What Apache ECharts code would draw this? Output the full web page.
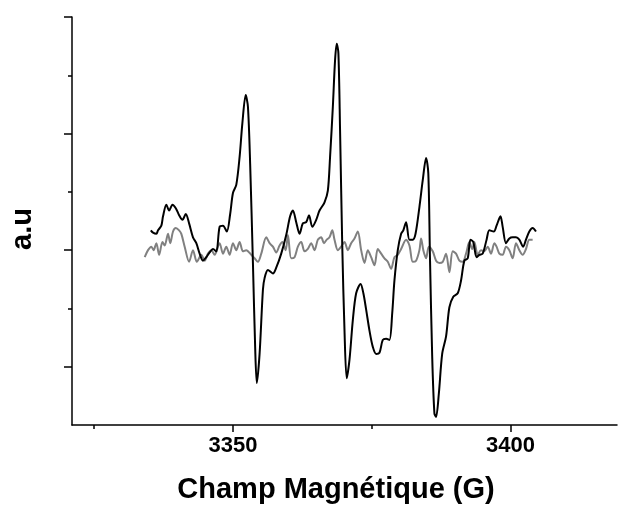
<!DOCTYPE html>
<html><head><meta charset="utf-8">
<script src="https://cdn.jsdelivr.net/npm/echarts@6/dist/echarts.min.js"></script>
<style>html,body{margin:0;padding:0;background:#fff}#c{width:619px;height:507px}</style>
</head><body><div id="c"></div>
<script>
// Field (G) and intensity (a.u) for the black spectrum
const blackX = [3335.2,3335.6,3336.2,3336.5,3337.1,3337.4,3338.0,3338.5,3339.1,3339.7,3340.3,3340.9,3341.5,3342.1,3342.8,3343.4,3344.0,3344.6,3345.2,3345.8,3346.4,3347.0,3347.6,3348.2,3348.9,3349.5,3350.0,3350.6,3351.2,3351.7,3352.3,3352.7,3353.1,3353.6,3354.0,3354.3,3354.8,3355.4,3355.7,3356.3,3357.2,3357.8,3358.7,3359.6,3360.3,3360.8,3361.4,3362.0,3362.6,3363.2,3363.7,3364.3,3365.0,3365.6,3366.5,3367.1,3367.5,3368.0,3368.4,3368.7,3369.0,3369.3,3369.7,3370.1,3370.5,3371.0,3371.6,3372.2,3373.0,3373.5,3374.0,3374.6,3375.2,3375.8,3376.4,3377.0,3377.6,3378.2,3378.7,3379.1,3379.7,3380.3,3380.7,3381.2,3381.8,3382.4,3382.9,3383.6,3384.2,3384.8,3385.2,3385.5,3385.9,3386.3,3386.6,3387.1,3387.7,3388.4,3389.0,3389.7,3390.5,3391.1,3391.7,3392.3,3392.8,3393.3,3393.9,3394.4,3395.0,3395.7,3396.2,3397.0,3397.5,3398.2,3398.6,3399.2,3399.8,3400.4,3401.0,3401.6,3402.3,3402.8,3403.4,3404.0,3404.6];
const blackY = [0.17,0.15,0.14,0.17,0.21,0.29,0.39,0.34,0.39,0.36,0.30,0.26,0.31,0.23,0.11,0.06,-0.03,-0.09,-0.06,-0.02,0.01,-0.01,0.20,0.21,0.16,0.31,0.49,0.56,0.80,1.09,1.33,1.23,0.74,-0.11,-0.83,-1.14,-0.89,-0.34,-0.24,-0.17,-0.20,-0.15,-0.03,0.13,0.29,0.34,0.24,0.14,0.23,0.24,0.30,0.20,0.26,0.34,0.41,0.51,0.80,1.23,1.63,1.77,1.69,1.03,0.03,-0.69,-1.10,-0.94,-0.60,-0.37,-0.29,-0.37,-0.51,-0.69,-0.83,-0.89,-0.88,-0.77,-0.76,-0.77,-0.54,-0.26,0.00,0.14,0.17,0.24,0.09,0.09,0.14,0.37,0.60,0.79,0.66,-0.06,-0.91,-1.40,-1.43,-1.23,-0.89,-0.74,-0.49,-0.40,-0.37,-0.26,-0.09,-0.07,0.09,0.07,-0.06,-0.04,-0.03,0.09,0.17,0.16,0.21,0.29,0.20,0.06,0.10,0.11,0.11,0.09,0.03,0.09,0.16,0.19,0.16];
// Field (G) and intensity (a.u) for the grey spectrum
const greyX = [3334.1,3334.7,3335.3,3335.7,3336.2,3336.7,3337.3,3337.7,3338.3,3338.7,3339.2,3339.7,3340.3,3340.7,3341.3,3342.1,3342.8,3343.5,3344.3,3344.9,3345.5,3346.1,3346.7,3347.6,3348.2,3348.8,3349.4,3350.0,3350.6,3351.2,3351.8,3352.4,3353.3,3353.9,3354.5,3355.1,3356.0,3356.6,3357.2,3357.8,3358.4,3358.9,3359.5,3359.9,3360.5,3361.1,3361.7,3362.3,3362.9,3363.5,3364.1,3364.7,3365.3,3365.9,3366.4,3366.9,3367.4,3367.9,3368.3,3368.9,3369.5,3370.1,3370.7,3371.3,3371.9,3372.5,3373.1,3373.7,3374.3,3374.9,3375.5,3376.1,3376.7,3377.3,3377.9,3378.5,3379.1,3379.7,3380.3,3381.2,3381.8,3382.4,3383.0,3383.6,3383.9,3384.3,3384.8,3385.3,3386.0,3386.6,3387.2,3387.8,3388.4,3389.0,3389.6,3390.2,3390.8,3391.4,3392.0,3392.6,3393.1,3393.5,3394.1,3394.7,3395.3,3395.9,3396.5,3397.1,3397.5,3398.0,3398.6,3399.2,3399.8,3400.4,3401.0,3401.6,3402.2,3402.8,3403.4,3404.0];
const greyY = [-0.06,0.00,0.03,0.00,0.06,-0.04,0.07,0.04,0.14,0.06,0.16,0.19,0.17,0.14,0.03,-0.10,0.00,-0.10,-0.04,-0.09,-0.03,0.00,-0.04,0.06,-0.03,0.03,-0.04,0.06,0.00,0.07,-0.01,0.00,-0.04,-0.07,-0.10,-0.03,0.11,0.06,0.03,-0.02,0.04,0.07,0.00,0.13,-0.07,-0.06,0.03,0.07,-0.01,0.01,0.06,0.00,0.09,0.11,0.06,0.09,0.11,0.17,0.09,0.00,0.03,0.07,0.00,0.06,0.10,0.16,0.00,-0.11,0.00,-0.06,-0.13,0.01,-0.03,-0.07,-0.10,-0.16,-0.06,-0.04,0.01,0.09,0.04,-0.10,-0.09,0.00,0.10,0.00,-0.07,0.03,-0.01,-0.09,-0.11,-0.10,-0.03,-0.19,-0.01,-0.03,-0.09,-0.10,-0.03,0.07,0.01,0.07,-0.04,0.00,-0.01,0.03,-0.03,0.06,0.03,-0.03,-0.04,0.03,0.00,-0.07,0.06,0.00,-0.04,0.01,0.09,0.09];
const xMajorTicks = [3350, 3400];
const xMinorTicks = [3325, 3375];
const yMajorTicks = [-1, 0, 1, 2];
const yMinorTicks = [-0.5, 0.5, 1.5];
const xTitle = 'Champ Magnétique (G)';
const yTitle = 'a.u';

const FONT = '"Liberation Sans", Arial, sans-serif';
const XMIN = 3321, XMAX = 3419.2, YMIN = -1.5, YMAX = 2;
const zip = (xs, ys) => xs.map((x, i) => [x, ys[i]]);

const chart = echarts.init(document.getElementById('c'), null, {renderer: 'canvas'});
const lineStyleAxis = {color: '#000', width: 1.5};
chart.setOption({
  animation: false,
  backgroundColor: '#fff',
  grid: {left: 72, right: 2, top: 17, bottom: 82, containLabel: false},
  xAxis: [
    {type: 'value', min: XMIN, max: XMAX, position: 'bottom',
     axisLine: {show: true, onZero: false, lineStyle: lineStyleAxis},
     axisTick: {show: true, customValues: xMajorTicks, length: 7, lineStyle: {color: '#000', width: 1.5}},
     axisLabel: {show: true, customValues: xMajorTicks, margin: 10, color: '#000', fontFamily: FONT, fontWeight: 'bold', fontSize: 22,
                 formatter: v => String(v)},
     splitLine: {show: false}},
    {type: 'value', min: XMIN, max: XMAX, position: 'bottom',
     axisLine: {show: false, onZero: false},
     axisTick: {show: true, customValues: xMinorTicks, length: 4, lineStyle: {color: '#000', width: 1.5}},
     axisLabel: {show: false}, splitLine: {show: false}}
  ],
  yAxis: [
    {type: 'value', min: YMIN, max: YMAX, position: 'left',
     axisLine: {show: true, onZero: false, lineStyle: lineStyleAxis},
     axisTick: {show: true, customValues: yMajorTicks, length: 8, lineStyle: {color: '#000', width: 1.5}},
     axisLabel: {show: false}, splitLine: {show: false}},
    {type: 'value', min: YMIN, max: YMAX, position: 'left',
     axisLine: {show: false, onZero: false},
     axisTick: {show: true, customValues: yMinorTicks, length: 4, lineStyle: {color: '#000', width: 1.5}},
     axisLabel: {show: false}, splitLine: {show: false}}
  ],
  graphic: [
    {type: 'text', x: 336, y: 490,
     style: {text: xTitle, font: 'bold 29px ' + FONT, fill: '#000', align: 'center', verticalAlign: 'middle'}},
    {type: 'text', x: 23, y: 229, rotation: Math.PI / 2,
     style: {text: yTitle, font: 'bold 29px ' + FONT, fill: '#000', align: 'center', verticalAlign: 'middle'}}
  ],
  series: [
    {type: 'line', data: zip(greyX, greyY), showSymbol: false, smooth: 0.3,
     lineStyle: {color: '#808080', width: 2}, xAxisIndex: 0, yAxisIndex: 0, z: 2},
    {type: 'line', data: zip(blackX, blackY), showSymbol: false, smooth: 0.3,
     lineStyle: {color: '#000', width: 2}, xAxisIndex: 0, yAxisIndex: 0, z: 3}
  ]
});
</script></body></html>
